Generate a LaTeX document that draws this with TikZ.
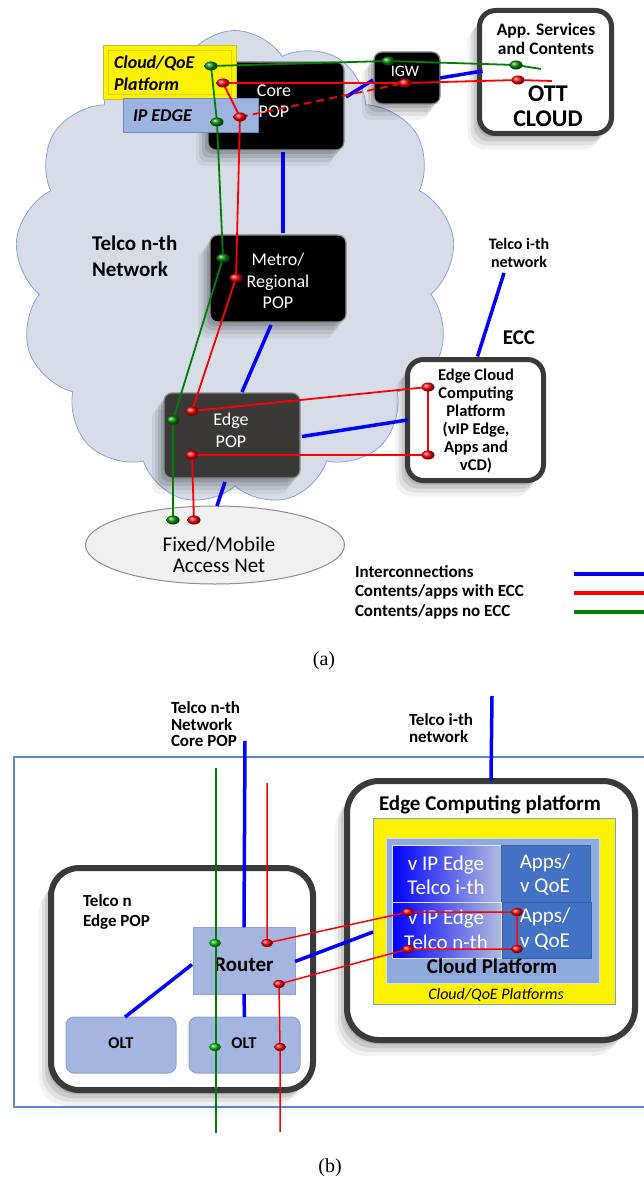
\documentclass[tikz,border=0pt]{standalone}
\usepackage{fontspec}
\setmainfont{Carlito}
\newfontfamily\capfont{Liberation Serif}
\usetikzlibrary{shapes.geometric,shapes.symbols,shadows,calc}
\pgfdeclarelayer{fg}
\pgfsetlayers{main,fg}
\newcommand\myfs[2]{\fontsize{#1}{#2}\selectfont}
\definecolor{cloudfill}{HTML}{D6DDE8}
\definecolor{cloudline}{HTML}{7F9FD4}
\definecolor{ipedge}{HTML}{9DB3E0}
\definecolor{ipedgeline}{HTML}{6A8CC8}
\definecolor{frame}{HTML}{3A3A3A}
\definecolor{edgepopc}{HTML}{3B3838}
\definecolor{gcol}{HTML}{008000}
\definecolor{rcol}{HTML}{FF0000}
\definecolor{bcol}{HTML}{0000FF}
\definecolor{routerc}{HTML}{A4B6E0}
\definecolor{routerl}{HTML}{8AA2D6}
\definecolor{cloudplat}{HTML}{8EA9DB}
\definecolor{appsc}{HTML}{4472C4}
\definecolor{appsl}{HTML}{3A5FA8}
\definecolor{outerl}{HTML}{5B87D6}
\definecolor{lightgrad}{HTML}{AFBCDD}
\begin{document}
\begin{tikzpicture}[x=1pt,y=-1pt,
  every node/.style={inner sep=0pt,outer sep=0pt},
  sh/.style={general shadow={shadow xshift=-3pt,shadow yshift=-4pt,opacity=.12,fill=black},
             general shadow={shadow xshift=-6pt,shadow yshift=-8pt,opacity=.1,fill=black},
             general shadow={shadow xshift=-9pt,shadow yshift=-12pt,opacity=.07,fill=black},
             general shadow={shadow xshift=-12pt,shadow yshift=-16pt,opacity=.05,fill=black}},
  blackbox/.style={rectangle,rounded corners=8pt,fill=black,draw=black!45,line width=1.2pt,sh},
  framebox/.style={rectangle,rounded corners=16pt,fill=white,draw=frame,line width=5pt,sh},
  wtxt/.style={text=white,align=center,font=\myfs{18}{21.5}},
  gl/.style={draw=gcol,line width=1.8pt},
  rl/.style={draw=rcol,line width=1.8pt},
  bl/.style={draw=bcol,line width=3.5pt},
  rdot/.style={ellipse,minimum width=13pt,minimum height=9pt,ball color=red},
  gdot/.style={ellipse,minimum width=13pt,minimum height=9pt,ball color=green!55!black},
  gdotb/.style={ellipse,minimum width=12pt,minimum height=8pt,ball color=green!75!black},
  rdotb/.style={ellipse,minimum width=12pt,minimum height=8pt,ball color=red},
  bluebox/.style={rectangle,fill=routerc,draw=routerl,line width=1pt},
]
\useasboundingbox (0,0) rectangle (644,1182);
\fill[white] (0,0) rectangle (644,1182);

%%%%%%%%%%%%%%%% (a)
\node[cloud, cloud puffs=13, cloud puff arc=115, aspect=0.9, minimum width=440pt, minimum height=475pt, fill=cloudfill, draw=cloudline, line width=0.7pt] (cloud) at (235,268) {};

\node[framebox, minimum width=132pt, minimum height=123pt] (ott) at (545.5,72) {};
\node[font=\bfseries\myfs{17.5}{19}, align=center] (ottsvc) at (546,39) {App. Services\\and Contents};
\node[font=\bfseries\myfs{24}{25}, align=center] (otttxt) at (548,106) {OTT\\CLOUD};

\node[framebox, minimum width=136pt, minimum height=121pt] (ecc) at (475.5,420) {};
\node[font=\bfseries\myfs{16.5}{18}, align=center] (ecctxt) at (476,421) {Edge Cloud\\Computing\\Platform\\(vIP Edge,\\Apps and\\vCD)};
\node[font=\bfseries\myfs{21}{22}] (ecclbl) at (519,338) {ECC};

\node[blackbox, minimum width=136pt, minimum height=88pt] (core) at (276,106) {};
\node[wtxt] (coretxt) at (274,101) {Core\\POP};
\node[blackbox, minimum width=66pt, minimum height=52pt] (igw) at (407,78) {};
\node[text=white, font=\myfs{16}{18}] (igwtxt) at (405,71) {IGW};
\node[blackbox, minimum width=136pt, minimum height=87pt] (metro) at (278,278.5) {};
\node[wtxt] (metrotxt) at (278,281) {Metro/\\Regional\\POP};
\node[blackbox, fill=edgepopc, minimum width=136pt, minimum height=85pt] (edgepop) at (232,435.5) {};
\node[wtxt] (edgetxt) at (231,430.5) {Edge\\POP};
\node[ellipse, fill=black!6, draw=black!45, line width=1pt, minimum width=259pt, minimum height=78pt] (access) at (215,545) {};
\node[font=\myfs{21}{21.5}, align=center] (accesstxt) at (219,555) {Fixed/Mobile\\Access Net};

\node[rectangle, fill=yellow, draw=yellow!75!black, line width=1pt, minimum width=133pt, minimum height=54pt] (cqp) at (169.5,73) {};
\draw[yellow!85!black, line width=1pt] ($(cqp.north west)+(5,5)$) rectangle ($(cqp.south east)+(-5,-5)$);
\node[anchor=west, align=left, font=\bfseries\itshape\myfs{18}{22}] (cqptxt) at (114,73) {Cloud/QoE\\Platform};
\node[rectangle, fill=ipedge, draw=ipedgeline, line width=1pt, minimum width=135pt, minimum height=34pt] (ipe) at (190.5,116) {};
\node[anchor=west, font=\bfseries\itshape\myfs{18}{20}] (ipetxt) at (133,116) {IP EDGE};

\node[anchor=west, align=left, font=\bfseries\myfs{21}{26}] (telcon) at (92,256) {Telco n-th\\Network};
\node[align=center, font=\bfseries\myfs{16}{18}] (telcoi) at (519,253) {Telco i-th\\network};
\coordinate (ithA) at (504,273);

% dots (a)
\begin{pgfonlayer}{fg}
\node[gdot] (gA1) at (211,66) {};
\node[gdot] (gA2) at (388,61) {};
\node[gdot] (gA3) at (516,65) {};
\node[gdot] (gA4) at (217,122) {};
\node[gdot] (gA5) at (223,258) {};
\node[gdot] (gA6) at (173,420) {};
\node[gdot] (gA7) at (173,520) {};
\node[rdot] (rA1) at (223,83) {};
\node[rdot] (rA2) at (405,83) {};
\node[rdot] (rA3) at (518,80) {};
\node[rdot] (rA4) at (240,117) {};
\node[rdot] (rA5) at (236,278) {};
\node[rdot] (rA6) at (192,411) {};
\node[rdot] (rA7) at (192,455) {};
\node[rdot] (rA8) at (428,387) {};
\node[rdot] (rA9) at (428,455) {};
\node[rdot] (rA10) at (194,520) {};
\end{pgfonlayer}
\coordinate (ge1) at (541,69);
\coordinate (re1) at (552,81);

% blue (a)
\draw[bl] ($(core.east)+(2,-9)$) -- ($(igw.west)+(-1,2)$);
\draw[bl] (igw.east) -- ($(ott.west)+(3,-1)$);
\draw[bl] ($(core.south)+(7,2)$) -- ($(metro.north)+(5,-2)$);
\draw[bl] ($(metro.south)+(-7,3)$) -- ($(edgepop.north)+(10,-1)$);
\draw[bl] ($(edgepop.east)+(2,1)$) -- (ecc.west);
\draw[bl] ($(edgepop.south)+(-7,4)$) -- ($(access.north)+(2,0)$);
\draw[bl] (ithA) -- ($(ecc.north)+(2,-3)$);

% red (a)
\draw[rl] (re1) -- (rA3.center) -- (rA2.center) -- (rA1.center) -- (rA4.center) -- (rA5.center) -- (rA6.center) -- (rA8.center) -- (rA9.center) -- (rA7.center) -- (rA10.center);
\draw[rl, dashed, dash pattern=on 8pt off 5pt] (rA4.center) -- (rA2.center);
% green (a)
\draw[gl] (ge1) -- (gA3.center) -- (gA2.center) -- (gA1.center) -- (gA4.center) -- (gA5.center) -- (gA6.center) -- (gA7.center);

% legend
\node[anchor=west, font=\bfseries\myfs{17}{18}] (leg1) at (355,572) {Interconnections};
\node[anchor=west, font=\bfseries\myfs{17}{18}] (leg2) at (355,592) {Contents/apps with ECC};
\node[anchor=west, font=\bfseries\myfs{17}{18}] (leg3) at (355,612) {Contents/apps no ECC};
\draw[draw=bcol, line width=4pt] (574,574) -- (650,574);
\draw[draw=rcol, line width=4pt] (574,593) -- (650,593);
\draw[draw=gcol, line width=4pt] (574,612) -- (650,612);

\node[font=\capfont\myfs{20}{22}] (capa) at (324,661) {(a)};

%%%%%%%%%%%%%%%% (b)
\node[rectangle, draw=outerl, line width=1.3pt, minimum width=646pt, minimum height=350pt] (area) at (337,932) {};

\node[framebox, rounded corners=28pt, line width=6pt, minimum width=262pt, minimum height=222pt] (epop) at (182,979) {};
\node[framebox, rounded corners=32pt, line width=6pt, minimum width=288pt, minimum height=259pt] (ecp) at (491,910.5) {};
\node[font=\bfseries\myfs{21}{22}] (ecptxt) at (490,805) {Edge Computing platform};
\node[rectangle, fill=yellow, draw=cloudline, line width=0.8pt, minimum width=242pt, minimum height=186pt] (yel) at (494,911) {};
\node[rectangle, fill=cloudplat, draw=white!60!cloudplat, line width=1pt, minimum width=213pt, minimum height=145pt] (cplat) at (492.5,910.5) {};
\node[rectangle, left color=blue, right color=lightgrad, draw=white!70!cloudplat, line width=1pt, minimum width=109pt, minimum height=57pt] (vipi) at (446.5,873.5) {};
\node[rectangle, fill=appsc, draw=appsl, line width=1pt, minimum width=89pt, minimum height=57pt] (appi) at (545.5,873.5) {};
\node[rectangle, left color=blue, right color=lightgrad, draw=white!70!cloudplat, line width=1pt, minimum width=109pt, minimum height=56pt] (vipn) at (446.5,930) {};
\node[rectangle, fill=appsc, draw=appsl, line width=1pt, minimum width=89pt, minimum height=56pt] (appn) at (546.5,930) {};
\node[text=white, align=center, font=\myfs{21}{24}] (vipitxt) at (446,875) {v IP Edge\\Telco i-th};
\node[text=white, align=center, font=\myfs{21}{24}] (appitxt) at (545,875) {Apps/\\v QoE};
\node[text=white, align=center, font=\myfs{21}{25}] (vipntxt) at (446,929.5) {v IP Edge\\Telco n-th};
\node[text=white, align=center, font=\myfs{21}{25}] (appntxt) at (545,929.5) {Apps/\\v QoE};
\node[font=\bfseries\myfs{21}{22}] (cplattxt) at (492,966) {Cloud Platform};
\node[font=\itshape\myfs{16}{18}] (yeltxt) at (496,995) {Cloud/QoE Platforms};

\node[bluebox, minimum width=102pt, minimum height=67pt] (router) at (244,960.5) {};
\node[font=\bfseries\myfs{21}{22}] (routertxt) at (244,965) {Router};
\node[bluebox, rounded corners=8pt, minimum width=110pt, minimum height=56pt] (olt1) at (121,1045) {};
\node[bluebox, rounded corners=8pt, minimum width=111pt, minimum height=56pt] (olt2) at (244.5,1045) {};
\node[font=\bfseries\myfs{16.5}{18}] (olt1txt) at (121,1043) {OLT};
\node[font=\bfseries\myfs{16.5}{18}] (olt2txt) at (244,1043) {OLT};
\node[anchor=west, align=left, font=\bfseries\myfs{17}{20}] (epoptxt) at (83,912) {Telco n\\Edge POP};
\node[anchor=west, align=left, font=\bfseries\myfs{17}{16.5}] (coretxtb) at (171,724.5) {Telco n-th\\Network\\Core POP};
\node[anchor=west, align=left, font=\bfseries\myfs{17}{17}] (ithtxtb) at (409,728.5) {Telco i-th\\network};

\coordinate (coretop) at (245,741);
\coordinate (ithtop) at (492,696);
\coordinate (gtop) at (216,768);
\coordinate (gbot) at (216,1133);
\coordinate (rtop) at (267,783);
\coordinate (rbot) at (280,1132);

\begin{pgfonlayer}{fg}
\node[gdotb] (gB1) at (215,943) {};
\node[gdotb] (gB2) at (215,1047) {};
\node[rdotb] (rB1) at (267,943) {};
\node[rdotb] (rB2) at (279,984) {};
\node[rdotb] (rB3) at (280,1047) {};
\node[rdotb] (rV1) at (408,912) {};
\node[rdotb] (rV2) at (517,912) {};
\node[rdotb] (rV3) at (408,949) {};
\node[rdotb] (rV4) at (517,949) {};
\end{pgfonlayer}

\draw[bl] (coretop) -- (router.north);
\draw[bl] (router.south) -- (olt2.north);
\draw[bl] ($(olt1.north)+(4,0)$) -- ($(router.west)+(-1,4)$);
\draw[bl] ($(router.east)+(0,1)$) -- ($(yel.west)+(0,21)$);
\draw[bl] (ithtop) -- (ecp.north);

\draw[draw=gcol, line width=1.5pt] (gtop) -- (gbot);
\draw[draw=rcol, line width=1.5pt] (rtop) -- (rB1.center) -- (rV1.center) -- (rV2.center) -- (rV4.center) -- (rV3.center) -- (rB2.center) -- (rB3.center) -- (rbot);

\node[font=\capfont\myfs{20}{22}] (capb) at (330,1168) {(b)};
\end{tikzpicture}
\end{document}
